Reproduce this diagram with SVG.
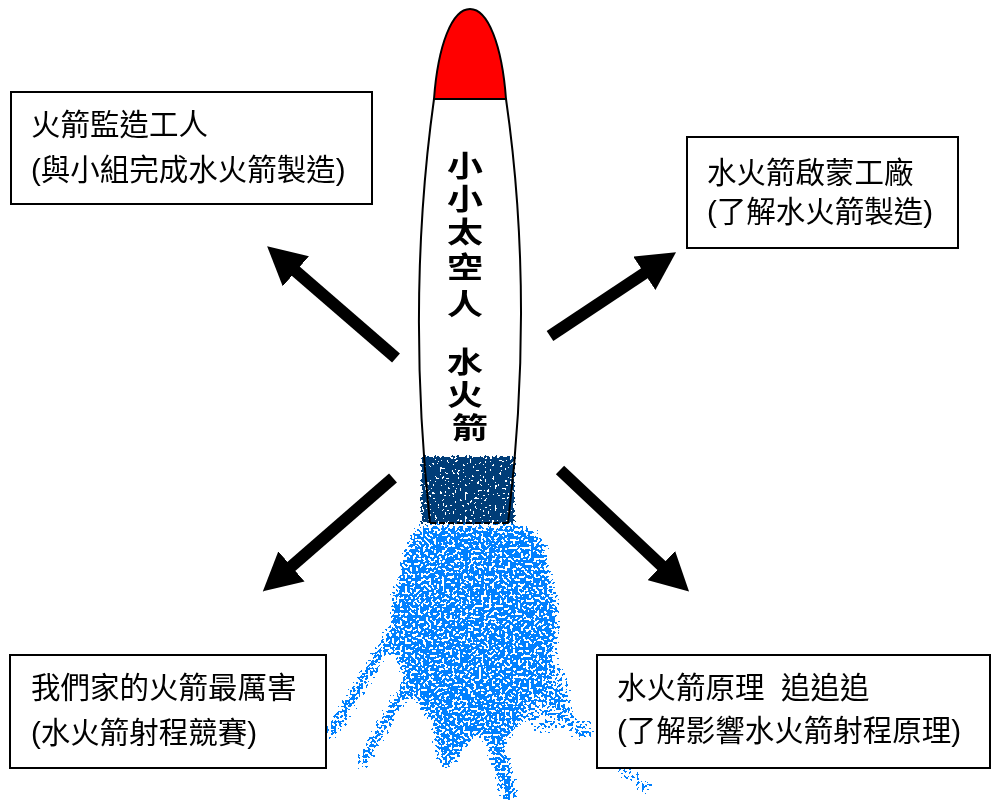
<svg xmlns="http://www.w3.org/2000/svg" width="993" height="800" viewBox="0 0 993 800">
  <style>
    .box { fill: #ffffff; stroke: #000000; stroke-width: 2; }
    .label { font-family: "Liberation Sans", "Noto Sans CJK TC", sans-serif; font-size: 29.5px; fill: #000000; }
    .title { font-family: "Liberation Sans", "Noto Sans CJK TC", sans-serif; font-size: 29px; font-weight: 700; fill: #000000; }
    .arrow { stroke: #000000; stroke-width: 12; fill: none; marker-end: url(#head); }
    .outline { fill: none; stroke: #000000; stroke-width: 2; }
    .streak { stroke: #000000; fill: none; stroke-linecap: round; }
  </style>
  <defs>
    <marker id="head" markerUnits="userSpaceOnUse" viewBox="0 0 40 40" markerWidth="40" markerHeight="40" refX="1" refY="20" orient="auto">
      <path d="M0,0 L38,20 L0,40 Z" fill="#000000"/>
    </marker>
    <!-- speckled water spray: blurred shape alpha plus noise, thresholded -->
    <filter id="spray" filterUnits="userSpaceOnUse" x="300" y="500" width="380" height="300" color-interpolation-filters="sRGB">
      <feGaussianBlur in="SourceAlpha" stdDeviation="4" result="b"/>
      <feTurbulence type="fractalNoise" baseFrequency="0.38" numOctaves="1" seed="11" result="n"/>
      <feColorMatrix in="n" type="matrix" values="0 0 0 0 0  0 0 0 0 0  0 0 0 0 0  2.2 0 0 0 -0.6" result="na"/>
      <feComposite in="b" in2="na" operator="arithmetic" k2="1" k3="1" k4="-0.86" result="c"/>
      <feComponentTransfer in="c" result="t">
        <feFuncA type="discrete" tableValues="0 1"/>
      </feComponentTransfer>
      <feColorMatrix in="t" type="matrix" values="0 0 0 0 0  0 0 0 0 0.5  0 0 0 0 1  0 0 0 1 0"/>
    </filter>
    <!-- dense navy exhaust block with small white flecks -->
    <filter id="exhaust" filterUnits="userSpaceOnUse" x="410" y="445" width="115" height="85" color-interpolation-filters="sRGB">
      <feGaussianBlur in="SourceAlpha" stdDeviation="1.5" result="b"/>
      <feTurbulence type="fractalNoise" baseFrequency="0.4" numOctaves="1" seed="5" result="n"/>
      <feColorMatrix in="n" type="matrix" values="0 0 0 0 0  0 0 0 0 0  0 0 0 0 0  2.2 0 0 0 -0.6" result="na"/>
      <feComposite in="b" in2="na" operator="arithmetic" k2="1" k3="1" k4="-0.66" result="c"/>
      <feComponentTransfer in="c" result="t">
        <feFuncA type="discrete" tableValues="0 1"/>
      </feComponentTransfer>
      <feColorMatrix in="t" type="matrix" values="0 0 0 0 0  0 0 0 0 0.24  0 0 0 0 0.47  0 0 0 1 0"/>
    </filter>
  </defs>

  <rect x="0" y="0" width="993" height="800" fill="#ffffff"/>

  <!-- water spray -->
  <g id="spray" filter="url(#spray)">
    <path d="M418,523 L516,523 C538,526 552,540 549,566 C560,590 564,625 556,655 C550,680 534,700 522,722 C516,735 505,745 495,748 L478,735 C466,752 452,768 443,776 C436,760 433,742 430,722 C414,706 404,690 398,668 C388,648 386,612 392,590 C398,566 404,540 418,523 Z"/>
    <path class="streak" d="M488,712 C495,745 503,770 510,795" stroke-width="20"/>
    <path class="streak" d="M393,632 L332,732" stroke-width="15"/>
    <path class="streak" d="M404,690 L362,762" stroke-width="15"/>
    <path class="streak" d="M520,650 C540,680 560,705 580,735" stroke-width="16" opacity="0.85"/>
    <ellipse cx="545" cy="695" rx="28" ry="40" opacity="0.75"/>
    <path class="streak" d="M622,770 L648,788" stroke-width="13" opacity="0.9"/>
    <path class="streak" d="M588,720 L592,735" stroke-width="9" opacity="0.85"/>
  </g>

  <!-- rocket -->
  <g id="rocket">
    <path d="M434,99 C438,45 452,9 470,9 C488,9 502,45 506,99 Z" fill="#ff0000" stroke="#000" stroke-width="2"/>
    <path d="M434,99 Q406,300 430,523 L508,523 Q535,300 506,99 Z" fill="#ffffff" stroke="none"/>
    <g filter="url(#exhaust)">
      <rect x="421" y="456" width="94" height="68"/>
    </g>
    <path class="outline" d="M430,523 Q406,300 434,99 L506,99 Q535,300 508,523"/>
    <line x1="430" y1="523" x2="508" y2="523" stroke="#000" stroke-width="2" stroke-dasharray="6 3"/>
    <!-- vertical title, one glyph per line -->
    <g transform="translate(470,0) scale(1.24,1)">
      <text class="title" text-anchor="middle" dominant-baseline="central">
        <tspan x="0" y="166">小</tspan>
        <tspan x="0" y="199">小</tspan>
        <tspan x="0" y="232">太</tspan>
        <tspan x="0" y="267">空</tspan>
        <tspan x="0" y="304">人</tspan>
        <tspan x="0" y="362">水</tspan>
        <tspan x="0" y="395">火</tspan>
        <tspan x="0" y="428">箭</tspan>
      </text>
    </g>
  </g>

  <!-- connectors -->
  <g id="connectors">
    <line class="arrow" x1="396" y1="358" x2="295.1" y2="270.6"/>
    <line class="arrow" x1="550" y1="336" x2="645.2" y2="272.8"/>
    <line class="arrow" x1="393" y1="478" x2="290.7" y2="567.1"/>
    <line class="arrow" x1="560" y1="470" x2="662.1" y2="566.2"/>
  </g>

  <g id="node-builder">
    <rect class="box" x="11" y="92" width="361" height="112"/>
    <text class="label" x="31" y="135">火箭監造工人</text>
    <text class="label" x="31" y="180">(與小組完成水火箭製造)</text>
  </g>

  <g id="node-workshop">
    <rect class="box" x="687" y="137" width="271" height="111"/>
    <text class="label" x="707" y="183">水火箭啟蒙工廠</text>
    <text class="label" x="707" y="222">(了解水火箭製造)</text>
  </g>

  <g id="node-contest">
    <rect class="box" x="10" y="655" width="316" height="113"/>
    <text class="label" x="31" y="698">我們家的火箭最厲害</text>
    <text class="label" x="31" y="743">(水火箭射程競賽)</text>
  </g>

  <g id="node-principle">
    <rect class="box" x="597" y="655" width="393" height="113"/>
    <text class="label" x="617" y="698" xml:space="preserve">水火箭原理  追追追</text>
    <text class="label" x="617" y="741">(了解影響水火箭射程原理)</text>
  </g>
</svg>
